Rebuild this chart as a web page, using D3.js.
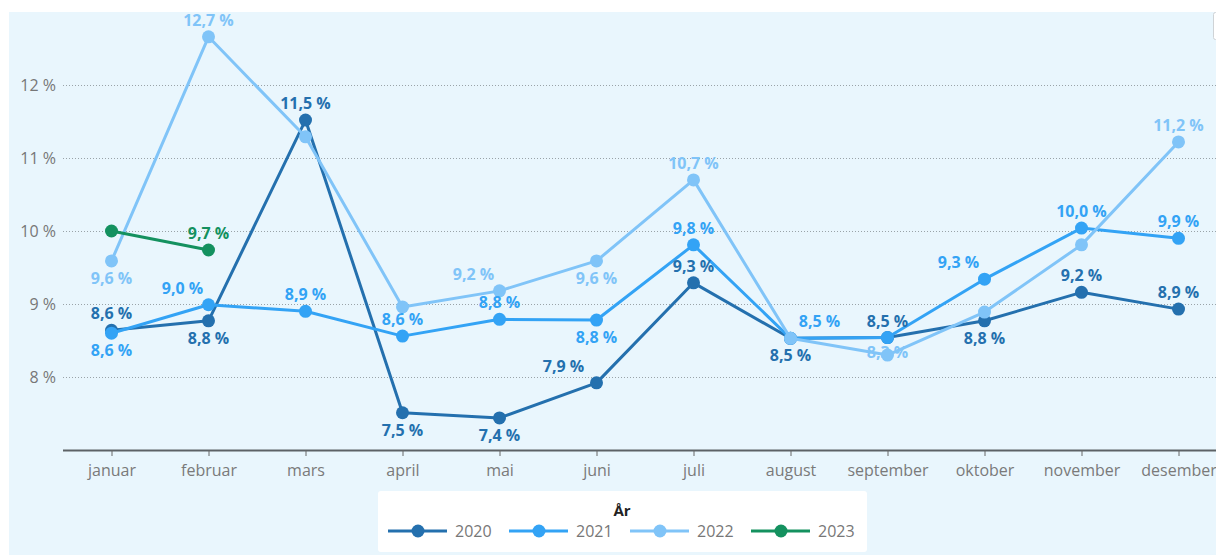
<!DOCTYPE html>
<html>
<head>
<meta charset="utf-8">
<script src="https://cdn.jsdelivr.net/npm/d3@7"></script>
<style>
  html, body { margin: 0; padding: 0; background: #ffffff; }
  svg { display: block; font-family: "Open Sans", Lato, sans-serif; }
</style>
</head>
<body>
<svg id="chart" width="1216" height="555"></svg>
<script>
// ---------- DATA ----------
const months = ["januar","februar","mars","april","mai","juni","juli","august","september","oktober","november","desember"];
const years = ["2020","2021","2022","2023"];
const values2020 = [8.64, 8.77, 11.52, 7.51, 7.44, 7.92, 9.29, 8.53, 8.54, 8.77, 9.16, 8.93];
const values2021 = [8.60, 8.99, 8.90, 8.56, 8.79, 8.78, 9.81, 8.53, 8.54, 9.34, 10.04, 9.90];
const values2022 = [9.59, 12.66, 11.29, 8.96, 9.18, 9.59, 10.70, 8.53, 8.30, 8.89, 9.81, 11.22];
const values2023 = [10.00, 9.74];
const yTicks = [8, 9, 10, 11, 12];

// ---------- STYLE / LAYOUT ----------
const colors = {"2020": "#2470ae", "2021": "#33a3f5", "2022": "#80c4f8", "2023": "#14915f"};
// label placement: a = above, b = below, o = on point, "" = hidden; dx = horizontal shift
const labelSide = {
  "2020": ["a","b","a","b","b","a","a","b","a","b","a","a"],
  "2021": ["b","a","a","a","a","b","a","a","","a","a","a"],
  "2022": ["b","a","","","a","b","a","","o","","","a"],
  "2023": ["","a"]
};
const labelDx = {
  "2020": [0,0,0,0,0,-33,0,0,0,0,0,0],
  "2021": [0,-26,0,0,0,0,0,29,0,-26,0,0],
  "2022": [0,0,0,0,-26,0,0,0,0,0,0,0],
  "2023": [0,0]
};

const series = [
  {name: "2020", values: values2020},
  {name: "2021", values: values2021},
  {name: "2022", values: values2022},
  {name: "2023", values: values2023}
];

const svg = d3.select("#chart");
const W = 1216, H = 555;
const FONT = "'Open Sans', Lato, sans-serif";

// background panel
svg.append("rect").attr("x", 9).attr("y", 12).attr("width", W - 9).attr("height", H - 12)
  .attr("fill", "#e9f6fd");
// small export button edge at top right
svg.append("rect").attr("x", 1213.5).attr("y", 12.5).attr("width", 20).attr("height", 27)
  .attr("fill", "#ffffff").attr("stroke", "#cfd3d6").attr("rx", 2);

const plotLeft = 63, plotRight = 1216;
const x = d3.scalePoint().domain(months).range([63, 1227]).padding(0.5);
const y = d3.scaleLinear().domain([7, 13]).range([450, 12]);

const fmt = v => d3.format(".1f")(v).replace(".", ",") + " %";

// gridlines
svg.append("g").selectAll("line").data(yTicks).join("line")
  .attr("x1", plotLeft).attr("x2", plotRight)
  .attr("y1", d => Math.round(y(d)) + 0.5).attr("y2", d => Math.round(y(d)) + 0.5)
  .attr("stroke", "#9aa3a8").attr("stroke-width", 1).attr("stroke-dasharray", "1,2");

// y axis labels
const yAxis = d3.axisLeft(y).tickValues(yTicks).tickSize(0).tickPadding(0)
  .tickFormat(d => d + " %");
const gy = svg.append("g").attr("transform", "translate(56,0)").call(yAxis);
gy.select(".domain").remove();
gy.selectAll("text").attr("fill", "#777").style("font-size", "16px").style("font-family", FONT);

// x axis
const xAxis = d3.axisBottom(x).tickSize(6).tickPadding(9);
const gx = svg.append("g").attr("transform", "translate(0,450)").call(xAxis);
gx.select(".domain").attr("d", `M${plotLeft},0.5H${plotRight}`).attr("stroke", "#5d6266").attr("stroke-width", 2);
gx.selectAll(".tick line").attr("stroke", "#666").attr("stroke-width", 1);
gx.selectAll("text").attr("fill", "#7a7a7a").style("font-size", "16px").style("font-family", FONT);

// lines and markers
const line = d3.line().x((d, i) => x(months[i])).y(d => y(d));
const seriesG = svg.append("g");
series.forEach(s => {
  const g = seriesG.append("g");
  g.append("path").datum(s.values).attr("d", line)
    .attr("fill", "none").attr("stroke", colors[s.name]).attr("stroke-width", 3)
    .attr("stroke-linejoin", "round").attr("stroke-linecap", "round");
  g.selectAll("circle").data(s.values).join("circle")
    .attr("cx", (d, i) => x(months[i])).attr("cy", d => y(d)).attr("r", 6.5)
    .attr("fill", colors[s.name]);
});

// data labels
const labelG = svg.append("g");
series.forEach(s => {
  s.values.forEach((v, i) => {
    const side = labelSide[s.name][i];
    if (!side) return;
    const dy = side === "a" ? -17 : side === "b" ? 17 : -3;
    labelG.append("text")
      .attr("x", x(months[i]) + labelDx[s.name][i])
      .attr("y", y(v) + dy)
      .attr("text-anchor", "middle")
      .attr("dominant-baseline", "central")
      .attr("fill", colors[s.name])
      .style("font-size", "16px").style("font-weight", "bold").style("font-family", FONT)
      .text(fmt(v));
  });
});

// legend
const legend = svg.append("g");
legend.append("rect").attr("x", 378).attr("y", 491).attr("width", 489).attr("height", 61)
  .attr("rx", 3).attr("fill", "#ffffff");
legend.append("text").attr("x", 622).attr("y", 510).attr("text-anchor", "middle")
  .attr("dominant-baseline", "central").attr("fill", "#222")
  .style("font-size", "15px").style("font-weight", "bold").style("font-family", FONT).text("År");
const legendX = d3.scalePoint().domain(years).range([388, 751]);
const items = legend.selectAll("g.item").data(years).join("g").attr("class", "item")
  .attr("transform", d => `translate(${legendX(d)},531)`);
items.append("line").attr("x1", 0).attr("x2", 59).attr("y1", 0).attr("y2", 0)
  .attr("stroke", d => colors[d]).attr("stroke-width", 3);
items.append("circle").attr("cx", 30).attr("cy", 0).attr("r", 6.5).attr("fill", d => colors[d]);
items.append("text").attr("x", 67).attr("y", 0).attr("dominant-baseline", "central")
  .attr("fill", "#777").style("font-size", "16px").style("font-family", FONT).text(d => d);
</script>
</body>
</html>
